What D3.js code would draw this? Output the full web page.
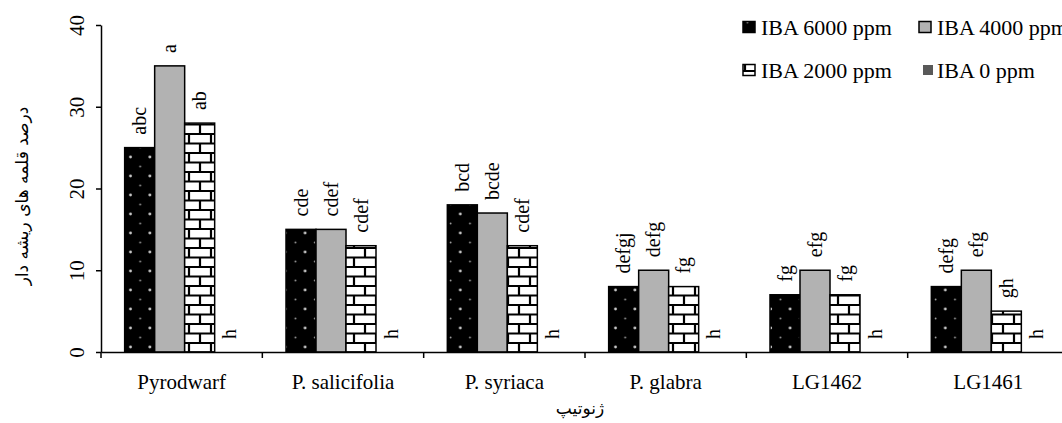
<!DOCTYPE html>
<html>
<head>
<meta charset="utf-8">
<script src="https://cdn.jsdelivr.net/npm/d3@7"></script>
<style>
  body { margin: 0; background: #fff; }
  text { font-family: "Liberation Serif", "Times New Roman", serif; fill: #000; }
  .fa { font-family: "DejaVu Sans", "Noto Sans", sans-serif; }
</style>
</head>
<body>
<script>
// data
var genotypes = ["Pyrodwarf", "P. salicifolia", "P. syriaca", "P. glabra", "LG1462", "LG1461"];
var seriesNames = ["IBA 6000 ppm", "IBA 4000 ppm", "IBA 2000 ppm", "IBA 0 ppm"];
var iba6000 = [25, 15, 18, 8, 7, 8];
var iba4000 = [35, 15, 17, 10, 10, 10];
var iba2000 = [28, 13, 13, 8, 7, 5];
var iba0    = [0, 0, 0, 0, 0, 0];
var letters6000 = ["abc", "cde", "bcd", "defgj", "fg", "defg"];
var letters4000 = ["a", "cdef", "bcde", "defg", "efg", "efg"];
var letters2000 = ["ab", "cdef", "cdef", "fg", "fg", "gh"];
var letters0    = ["h", "h", "h", "h", "h", "h"];
var yTicks = [0, 10, 20, 30, 40];

var series = [
  {name: seriesNames[0], values: iba6000, letters: letters6000, fill: "url(#dots)"},
  {name: seriesNames[1], values: iba4000, letters: letters4000, fill: "#b2b2b2"},
  {name: seriesNames[2], values: iba2000, letters: letters2000, fill: "url(#bricks)"},
  {name: seriesNames[3], values: iba0, letters: letters0, fill: "#595959"}
];

var W = 1062, H = 423;
var plotLeft = 101, plotRight = 1069, plotTop = 25, plotBottom = 352;

var svg = d3.select("body").append("svg")
    .attr("width", W)
    .attr("height", H);

// patterns
var defs = svg.append("defs");
var dots = defs.append("pattern")
    .attr("id", "dots")
    .attr("patternUnits", "userSpaceOnUse")
    .attr("width", 19.4).attr("height", 19)
    .attr("x", 125).attr("y", 0);
dots.append("rect").attr("width", 19.4).attr("height", 19).attr("fill", "#000");
dots.append("circle").attr("cx", 5.5).attr("cy", 5).attr("r", 1.4).attr("fill", "#c8c8c8");
dots.append("circle").attr("cx", 15.2).attr("cy", 14.5).attr("r", 0.9).attr("fill", "#a0a0a0");

var bricks = defs.append("pattern")
    .attr("id", "bricks")
    .attr("patternUnits", "userSpaceOnUse")
    .attr("width", 22).attr("height", 19)
    .attr("x", 183).attr("y", 0);
bricks.append("rect").attr("width", 22).attr("height", 19).attr("fill", "#fff");
bricks.append("path")
    .attr("d", "M0,1 H22 M0,10.5 H22 M6,1 V10.5 M17,10.5 V19")
    .attr("stroke", "#000").attr("stroke-width", 2.2).attr("fill", "none");

var x = d3.scaleBand().domain(genotypes).range([plotLeft, plotRight]);
var y = d3.scaleLinear().domain([0, 40]).range([plotBottom, plotTop]);

var barW = 30;
var sub = d3.scaleBand().domain(d3.range(series.length)).range([0, barW * series.length]);
var groupOffset = (x.bandwidth() - barW * series.length) / 2 + 3;

// bars
series.forEach(function(s, si) {
  var g = svg.append("g");
  g.selectAll("rect")
    .data(s.values)
    .enter().append("rect")
    .attr("x", function(d, i) { return x(genotypes[i]) + groupOffset + sub(si); })
    .attr("y", function(d) { return y(d); })
    .attr("width", barW)
    .attr("height", function(d) { return plotBottom - y(d); })
    .attr("fill", s.fill)
    .attr("stroke", function(d) { return d > 0 ? "#000" : "none"; })
    .attr("stroke-width", 1.5);

  // significance letters, rotated
  g.selectAll("text")
    .data(s.values)
    .enter().append("text")
    .attr("transform", function(d, i) {
      var cx = x(genotypes[i]) + groupOffset + sub(si) + barW / 2;
      return "translate(" + cx + "," + (y(d) - 13) + ") rotate(-90)";
    })
    .attr("dy", "0.33em")
    .style("font-size", "20px")
    .text(function(d, i) { return s.letters[i]; });
});

// x axis
var xAxis = svg.append("g")
    .attr("transform", "translate(0," + plotBottom + ")")
    .call(d3.axisBottom(x).tickSize(0).tickPadding(22));
xAxis.select(".domain").attr("stroke", "#000").attr("stroke-width", 1.5);
xAxis.selectAll(".tick text").style("font-size", "21px").attr("fill", "#000");
xAxis.selectAll(".sep")
    .data(genotypes)
    .enter().append("line")
    .attr("x1", function(d) { return x(d); })
    .attr("x2", function(d) { return x(d); })
    .attr("y1", 0).attr("y2", 6)
    .attr("stroke", "#000").attr("stroke-width", 1.5);

// y axis
var yAxis = svg.append("g")
    .attr("transform", "translate(" + plotLeft + ",0)")
    .call(d3.axisLeft(y).tickValues(yTicks).tickSize(5).tickSizeOuter(0));
yAxis.select(".domain").attr("stroke", "#000").attr("stroke-width", 1.5);
yAxis.selectAll(".tick line").attr("stroke", "#000").attr("stroke-width", 1.5);
yAxis.selectAll(".tick text")
    .attr("x", null)
    .attr("text-anchor", "middle")
    .attr("transform", "translate(-24,0) rotate(-90)")
    .attr("dy", "0.35em")
    .style("font-size", "21px")
    .attr("fill", "#000");

// axis titles
svg.append("text")
    .attr("class", "fa")
    .attr("transform", "translate(22,196) rotate(-90)")
    .attr("text-anchor", "middle")
    .attr("dy", "0.35em")
    .style("font-size", "17px")
    .text("درصد قلمه های ریشه دار");

svg.append("text")
    .attr("class", "fa")
    .attr("x", 580)
    .attr("y", 414)
    .attr("text-anchor", "middle")
    .style("font-size", "17px")
    .text("ژنوتیپ");

// legend
var legendPos = [[743, 27], [919, 27], [743, 70], [919, 70]];
var legend = svg.append("g").selectAll("g")
    .data(series)
    .enter().append("g")
    .attr("transform", function(d, i) { return "translate(" + legendPos[i][0] + "," + legendPos[i][1] + ")"; });
legend.append("rect")
    .attr("x", function(d, i) { return i == 3 ? 4 : 0; })
    .attr("y", function(d, i) { return i == 3 ? -5 : -5.5; })
    .attr("width", function(d, i) { return i == 3 ? 10 : 12; })
    .attr("height", function(d, i) { return i == 3 ? 10 : 11; })
    .attr("fill", function(d) { return d.fill; })
    .attr("stroke", function(d, i) { return i == 3 ? "none" : "#000"; })
    .attr("stroke-width", 1.5);
legend.append("text")
    .attr("x", 18)
    .attr("dy", "0.35em")
    .style("font-size", "22px")
    .text(function(d) { return d.name; });
</script>
</body>
</html>
